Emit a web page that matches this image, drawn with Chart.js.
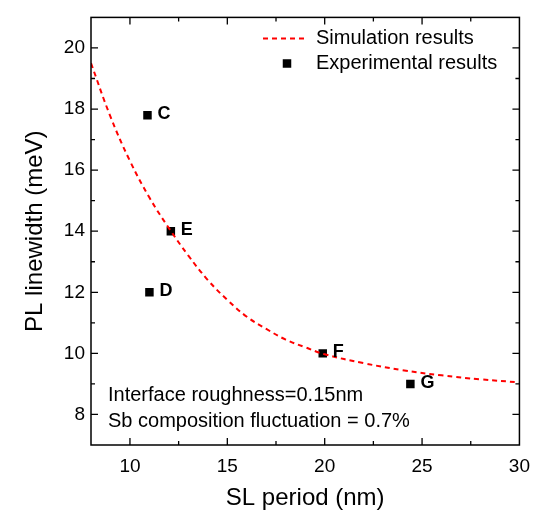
<!DOCTYPE html>
<html>
<head>
<meta charset="utf-8">
<script src="https://cdn.jsdelivr.net/npm/chart.js@4/dist/chart.umd.min.js"></script>
<style>
  body { margin: 0; background: #fff; }
</style>
</head>
<body>
<canvas id="myChart" width="540" height="511"></canvas>
<script>
// simulation curve
const simX = [8, 9, 10, 11, 12, 13, 14, 15, 16, 17, 18, 19, 20, 22, 24, 26, 28, 30];
const simY = [19.5, 17.75, 16.3, 15.1, 14.1, 13.2, 12.4, 11.75, 11.2, 10.8, 10.45, 10.2, 9.97, 9.68, 9.45, 9.28, 9.15, 9.05];

// experimental samples
const expNames = ['C', 'D', 'E', 'F', 'G'];
const expX = [10.9, 11.0, 12.1, 19.9, 24.4];
const expY = [17.8, 12.0, 14.0, 10.0, 9.0];

const xTickLabels = [10, 15, 20, 25, 30];
const yTickLabels = [8, 10, 12, 14, 16, 18, 20];

const FONT = '"Liberation Sans", Arial, sans-serif';

const framePlugin = {
    id: 'frame',
    afterDatasetsDraw(chart) {
        const ctx = chart.ctx;
        const area = chart.chartArea;
        const xs = chart.scales.x;
        const ys = chart.scales.y;
        ctx.save();
        ctx.strokeStyle = '#000';
        ctx.lineWidth = 1.5;
        ctx.strokeRect(area.left, area.top, area.right - area.left, area.bottom - area.top);

        // inward ticks on all four sides
        ctx.lineWidth = 1.3;
        xs.ticks.forEach(t => {
            if (t.value <= xs.min || t.value >= xs.max) return;
            const len = xTickLabels.includes(t.value) ? 7 : 4;
            const px = xs.getPixelForValue(t.value);
            ctx.beginPath();
            ctx.moveTo(px, area.bottom); ctx.lineTo(px, area.bottom - len);
            ctx.moveTo(px, area.top); ctx.lineTo(px, area.top + len);
            ctx.stroke();
        });
        ys.ticks.forEach(t => {
            if (t.value <= ys.min || t.value >= ys.max) return;
            const len = yTickLabels.includes(t.value) ? 7 : 4;
            const py = ys.getPixelForValue(t.value);
            ctx.beginPath();
            ctx.moveTo(area.left, py); ctx.lineTo(area.left + len, py);
            ctx.moveTo(area.right, py); ctx.lineTo(area.right - len, py);
            ctx.stroke();
        });

        // sample names next to the squares
        ctx.fillStyle = '#000';
        ctx.font = 'bold 18px ' + FONT;
        ctx.textBaseline = 'middle';
        ctx.textAlign = 'left';
        expNames.forEach((n, i) => {
            ctx.fillText(n, xs.getPixelForValue(expX[i]) + 10, ys.getPixelForValue(expY[i]) - 1);
        });

        // legend
        const sim = chart.data.datasets[0];
        ctx.strokeStyle = sim.borderColor;
        ctx.lineWidth = sim.borderWidth;
        ctx.setLineDash(sim.borderDash);
        ctx.beginPath();
        ctx.moveTo(263, 38.5); ctx.lineTo(308, 38.5);
        ctx.stroke();
        ctx.setLineDash([]);
        ctx.fillRect(287 - 4.25, 63.5 - 4.25, 8.5, 8.5);
        ctx.font = '20px ' + FONT;
        ctx.fillText(sim.label, 316, 38.5);
        ctx.fillText(chart.data.datasets[1].label, 316, 63.5);

        // notes
        ctx.fillText('Interface roughness=0.15nm', 108, 395.5);
        ctx.fillText('Sb composition fluctuation = 0.7%', 108, 421);
        ctx.restore();
    }
};

const ctx = document.getElementById('myChart').getContext('2d');
const myChart = new Chart(ctx, {
    type: 'scatter',
    data: {
        datasets: [{
            label: 'Simulation results',
            data: simX.map((x, i) => ({ x: x, y: simY[i] })),
            showLine: true,
            borderColor: '#ff0000',
            borderWidth: 2,
            borderDash: [5, 4],
            pointRadius: 0,
            tension: 0.4,
            fill: false
        }, {
            label: 'Experimental results',
            data: expX.map((x, i) => ({ x: x, y: expY[i] })),
            pointStyle: 'rect',
            pointRadius: 6,
            backgroundColor: '#000',
            borderColor: '#000',
            borderWidth: 0
        }]
    },
    options: {
        responsive: false,
        animation: false,
        devicePixelRatio: 1,
        layout: { padding: { top: 15, right: 19, left: 0, bottom: 0 } },
        plugins: {
            legend: { display: false },
            tooltip: { enabled: false }
        },
        scales: {
            x: {
                type: 'linear',
                min: 8,
                max: 30,
                grid: { display: false, drawTicks: false },
                border: { display: false },
                ticks: {
                    stepSize: 2.5,
                    autoSkip: false,
                    maxRotation: 0,
                    padding: 10,
                    color: '#000',
                    font: { family: FONT, size: 19 },
                    callback: v => xTickLabels.includes(v) ? String(v) : ''
                },
                title: {
                    display: true,
                    text: 'SL period (nm)',
                    color: '#000',
                    font: { family: FONT, size: 24, lineHeight: 1 },
                    padding: { top: 0, bottom: 1 }
                },
                afterFit: s => { s.height = 66; }
            },
            y: {
                type: 'linear',
                min: 7,
                max: 21,
                grid: { display: false, drawTicks: false },
                border: { display: false },
                ticks: {
                    stepSize: 1,
                    autoSkip: false,
                    padding: 6,
                    color: '#000',
                    font: { family: FONT, size: 19 },
                    callback: v => yTickLabels.includes(v) ? String(v) : ''
                },
                title: {
                    display: true,
                    text: 'PL linewidth (meV)',
                    color: '#000',
                    font: { family: FONT, size: 24, lineHeight: 1 },
                    padding: { top: 23, bottom: 0 }
                },
                afterFit: s => { s.width = 91; }
            }
        }
    },
    plugins: [framePlugin]
});
</script>
</body>
</html>
